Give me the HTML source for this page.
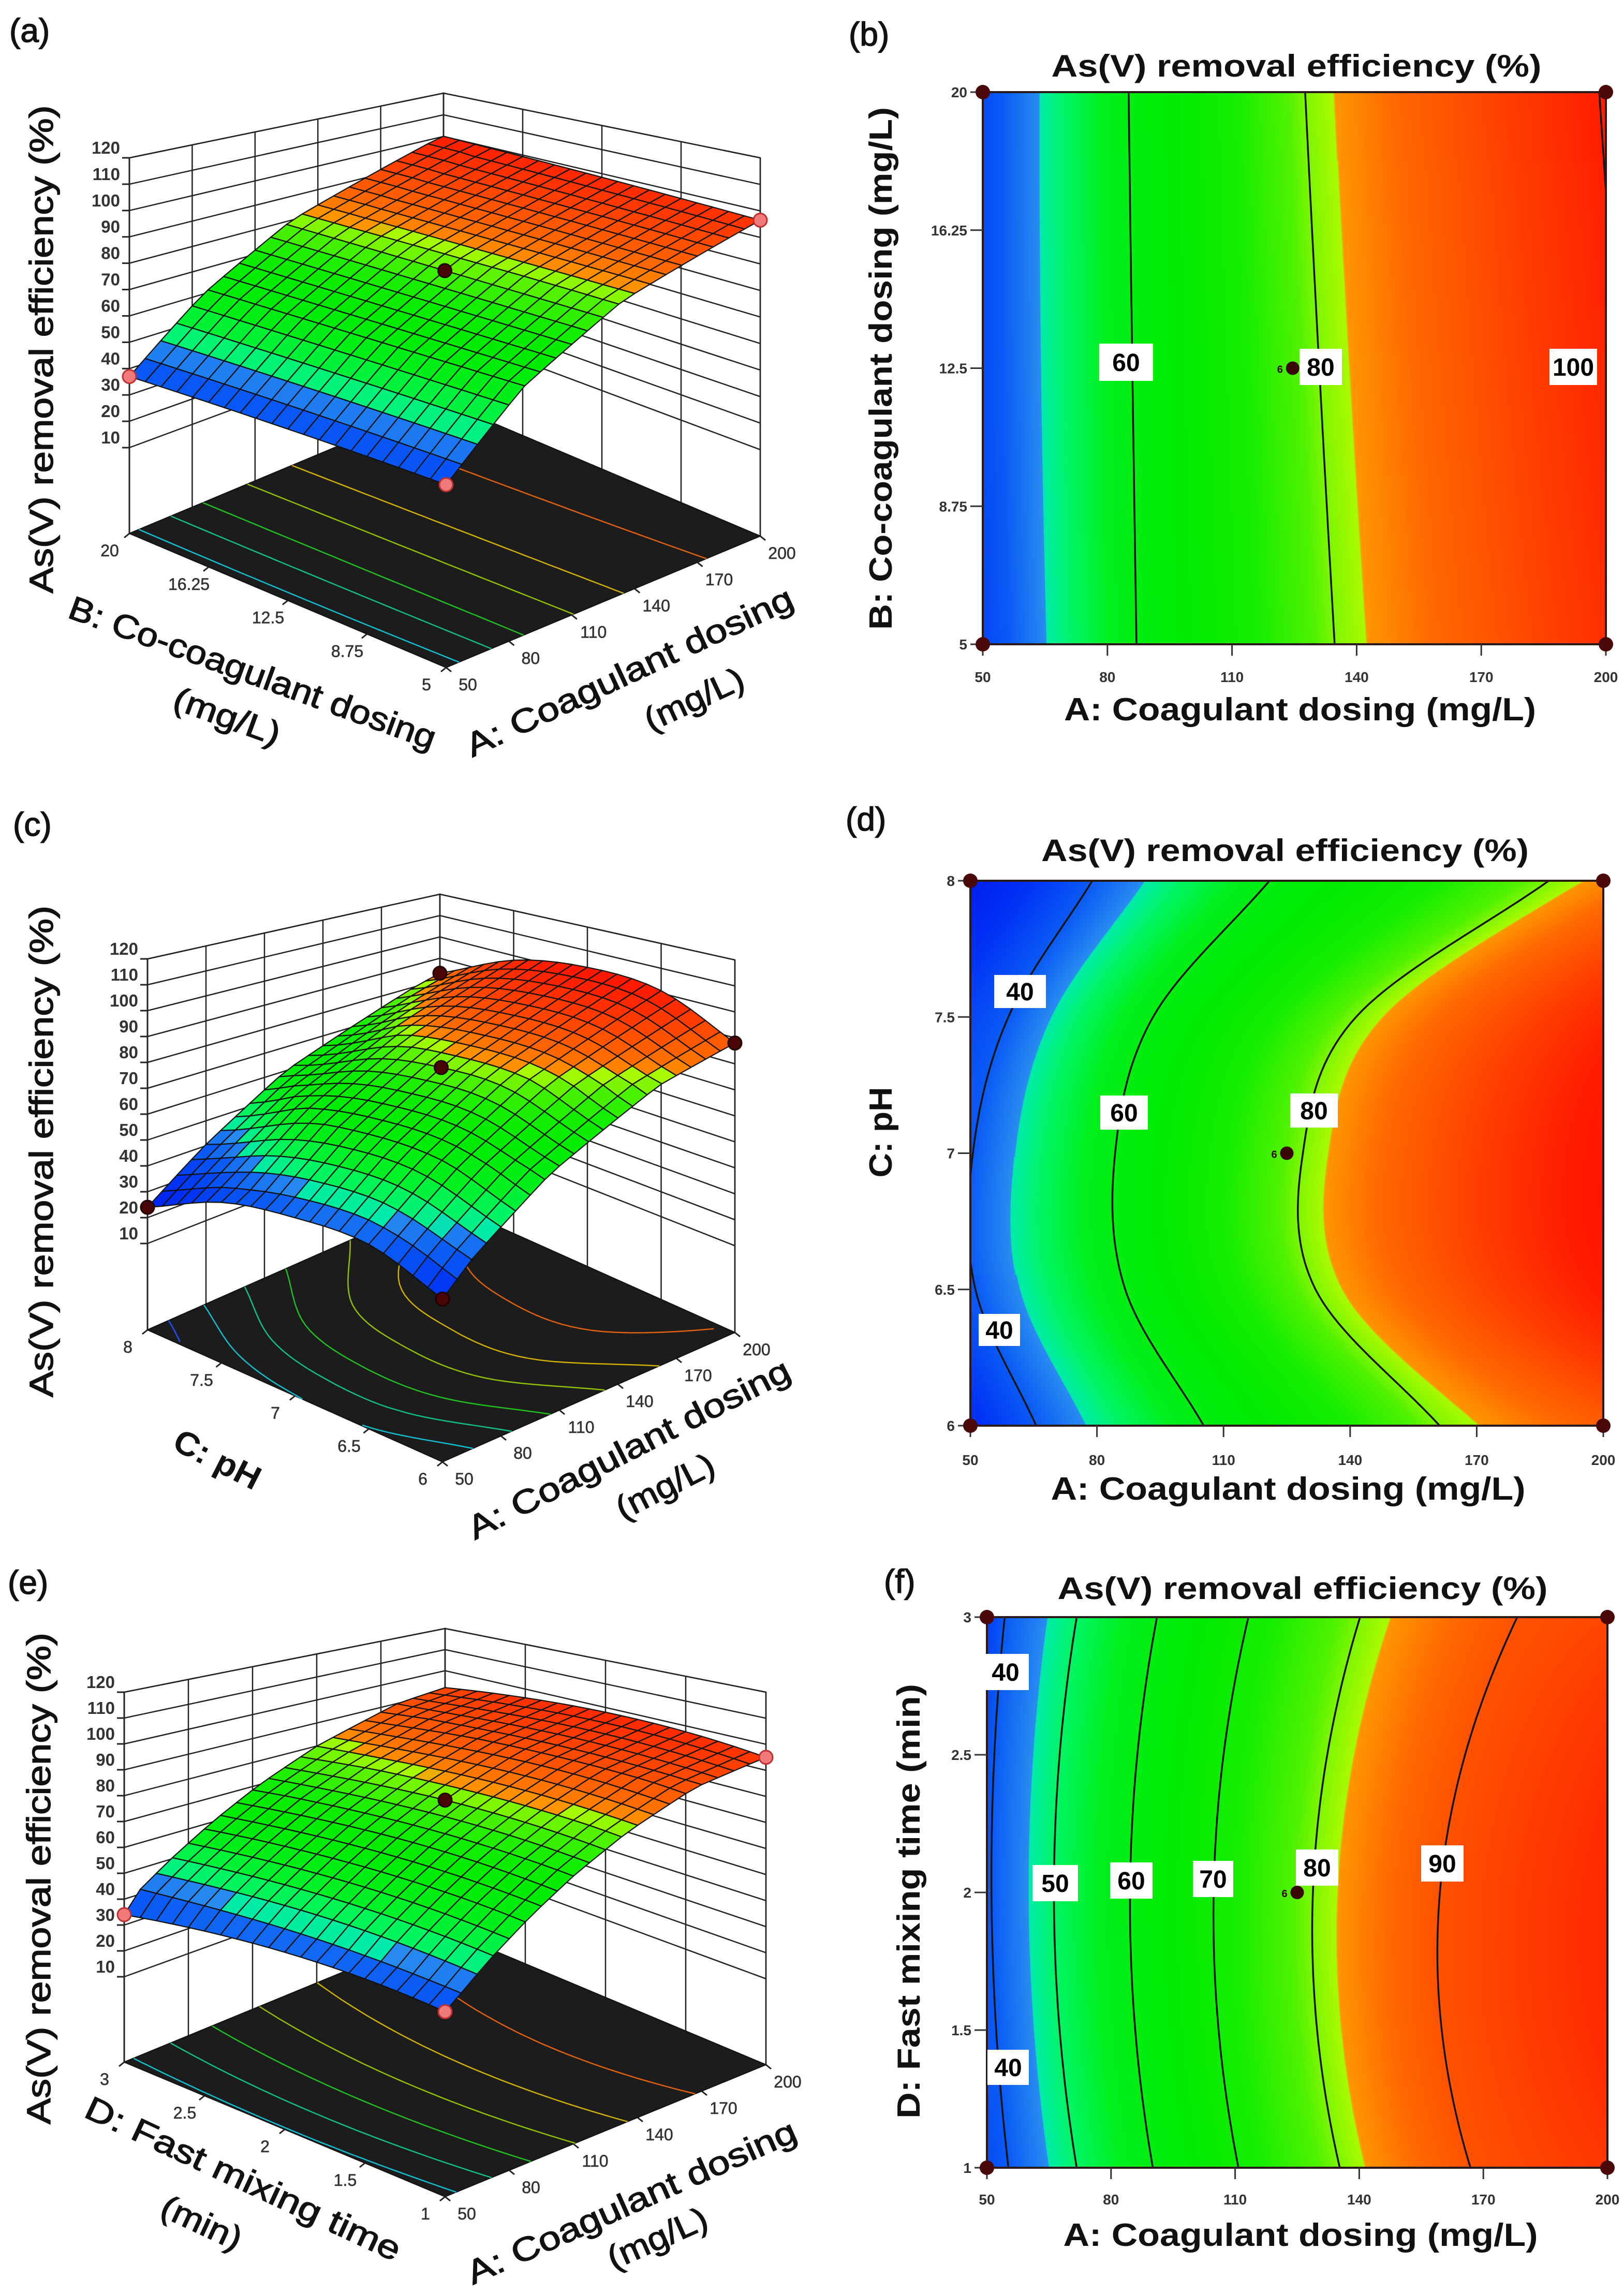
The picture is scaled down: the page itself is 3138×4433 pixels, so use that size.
<!DOCTYPE html>
<html><head><meta charset="utf-8">
<style>
html,body{margin:0;padding:0;background:#fff;}
#wrap{position:relative;width:3138px;height:4433px;overflow:hidden;background:#fff;}
canvas{position:absolute;}
svg{position:absolute;left:0;top:0;}
text{font-family:"Liberation Sans",sans-serif;}
</style></head>
<body>
<div id="wrap">
<canvas id="hb" width="1204" height="1067" style="left:1899px;top:178px"></canvas>
<canvas id="hd" width="1223" height="1053" style="left:1875px;top:1702px"></canvas>
<canvas id="hf" width="1199" height="1064" style="left:1907px;top:3125px"></canvas>
<svg id="fig" width="3138" height="4433" viewBox="0 0 3138 4433"></svg>
</div>
<script>
// ---------- data ----------
const aTicks=[50,80,110,140,170,200];
const aTickLabels=['50','80','110','140','170','200'];
const zTicks=[10,20,30,40,50,60,70,80,90,100,110,120];
// pair 1: A vs B (co-coagulant)
const bY=[5,12.5,20];
const bTicks=[5,8.75,12.5,16.25,20];
const bTickLabels=['5','8.75','12.5','16.25','20'];
const bEdge50=[36,37,37];
const bEdge200=[96.5,98.5,100.1];
const bLevels=[60,80,100];
const bPos60=[87.0,86.0,85.1];
const bPos80=[134.7,131.0,127.6];
const bPos100=[208,203,198.4];
// pair 2: A vs pH
const cY=[6,6.5,7,7.5,8];
const cTicks=[6,6.5,7,7.5,8];
const cTickLabels=['6','6.5','7','7.5','8'];
const cEdge50=[30,39.5,39.8,36,24];
const cEdge200=[88,101,103,98,83];
const cLevels=[40,60,80];
const cPos40=[65.6,51.2,50.6,59.0,78.9];
const cPos60=[105.3,86.7,84.3,93.3,120.9];
const cPos80=[161.2,131.8,128.8,141.4,187.1];
// pair 3: A vs fast mixing time
const dY=[1,2,3];
const dTicks=[1,1.5,2,2.5,3];
const dTickLabels=['1','1.5','2','2.5','3'];
const dEdge50=[37,39.5,34];
const dEdge200=[95,98,92];
const dLevels=[40,50,60,70,80,90];
const dPos40=[55.2,51.1,54.3];
const dPos50=[71.7,66.2,71.7];
const dPos60=[90.1,84.6,91.1];
const dPos70=[110.8,104.8,113.2];
const dPos80=[135.3,128.8,140.2];
const dPos90=[166.9,159.5,178.2];
const floorLevels=[30,40,50,60,70,80,90];
const floorColors=['#2050ff','#10c0d0','#10c080','#20c020','#90c000','#d0b000','#e06010'];

// ---------- helpers ----------
const NS='http://www.w3.org/2000/svg';
const svg=document.getElementById('fig');
function mk(tag,attrs,parent){const e=document.createElementNS(NS,tag);for(const k in attrs)e.setAttribute(k,attrs[k]);(parent||svg).appendChild(e);return e;}
function interp(arr,ys,y){
  const n=ys.length;
  if(y<=ys[0])return arr[0]; if(y>=ys[n-1])return arr[n-1];
  if(n===3){
    const [x0,x1,x2]=ys;
    return arr[0]*(y-x1)*(y-x2)/((x0-x1)*(x0-x2))+arr[1]*(y-x0)*(y-x2)/((x1-x0)*(x1-x2))+arr[2]*(y-x0)*(y-x1)/((x2-x0)*(x2-x1));
  }
  let i=0; while(i<n-2&&y>ys[i+1])i++;
  const t=(y-ys[i])/(ys[i+1]-ys[i]);
  const p1=arr[i],p2=arr[i+1];
  const p0=i>0?arr[i-1]:2*p1-p2;
  const p3=i+2<n?arr[i+2]:2*p2-p1;
  return 0.5*((2*p1)+(-p0+p2)*t+(2*p0-5*p1+4*p2-p3)*t*t+(-p0+3*p1-3*p2+p3)*t*t*t);
}
function rowPts(P,y){
  const pts=[[50,interp(P.e50,P.ys,y)]];
  P.levels.forEach((L,i)=>{const p=interp(P.pos[i],P.ys,y);if(p>50.5&&p<199.5)pts.push([p,L]);});
  pts.push([200,interp(P.e200,P.ys,y)]);
  pts.sort((a,b)=>a[0]-b[0]);
  return pts;
}
function evalPts(pts,A){
  for(let i=0;i<pts.length-1;i++){if(A<=pts[i+1][0]){const t=(A-pts[i][0])/Math.max(1e-6,pts[i+1][0]-pts[i][0]);return pts[i][1]+t*(pts[i+1][1]-pts[i][1]);}}
  return pts[pts.length-1][1];
}
function field(P,A,y){return evalPts(rowPts(P,y),A);}
const cm=[[20,[0,20,235]],[32,[0,50,245]],[40,[10,90,245]],[45.9,[40,140,240]],[46,[0,235,170]],[50,[0,245,100]],[56,[0,240,30]],[65,[0,235,0]],[72,[20,238,0]],[78,[80,242,0]],[81.9,[170,250,0]],[82,[255,150,0]],[86,[255,105,0]],[93,[255,65,0]],[100,[255,30,0]],[110,[255,0,0]]];
function cmap(v){
  if(v<=cm[0][0])return cm[0][1];
  for(let i=0;i<cm.length-1;i++){if(v<=cm[i+1][0]){const t=(v-cm[i][0])/(cm[i+1][0]-cm[i][0]);const a=cm[i][1],b=cm[i+1][1];return [a[0]+t*(b[0]-a[0]),a[1]+t*(b[1]-a[1]),a[2]+t*(b[2]-a[2])];}}
  return cm[cm.length-1][1];
}
function rgb(c){return 'rgb('+Math.round(c[0])+','+Math.round(c[1])+','+Math.round(c[2])+')';}

const P1={ys:bY,e50:bEdge50,e200:bEdge200,levels:bLevels,pos:[bPos60,bPos80,bPos100]};
const P2={ys:cY,e50:cEdge50,e200:cEdge200,levels:cLevels,pos:[cPos40,cPos60,cPos80]};
const P3={ys:dY,e50:dEdge50,e200:dEdge200,levels:dLevels,pos:[dPos40,dPos50,dPos60,dPos70,dPos80,dPos90]};

// ---------- contour panels ----------
function contourPanel(C){
  const P=C.P,[x0,y0,x1,y1]=C.rect,ymin=P.ys[0],ymax=P.ys[P.ys.length-1];
  const cv=document.getElementById(C.canvas),ctx=cv.getContext('2d');
  const W=cv.width,H=cv.height,img=ctx.createImageData(W,H);
  for(let py=0;py<H;py++){
    const yv=ymax-(py+0.5)/H*(ymax-ymin); const pts=rowPts(P,yv);
    for(let px=0;px<W;px++){const c=cmap(evalPts(pts,50+(px+0.5)/W*150));const k=(py*W+px)*4;img.data[k]=c[0];img.data[k+1]=c[1];img.data[k+2]=c[2];img.data[k+3]=255;}
  }
  ctx.putImageData(img,0,0);
  const X=a=>x0+(a-50)/150*(x1-x0), Y=v=>y1-(v-ymin)/(ymax-ymin)*(y1-y0);
  const g=mk('g',{});
  
  
  const cp=mk('clipPath',{id:C.name+'-clip'},g); mk('rect',{x:x0,y:y0,width:x1-x0,height:y1-y0},cp);
  const lg=mk('g',{'clip-path':'url(#'+C.name+'-clip)'},g);
  P.levels.forEach((L,i)=>{
    let d='';for(let s=0;s<=80;s++){const yv=ymin+(ymax-ymin)*s/80;d+=(s?'L':'M')+X(interp(P.pos[i],P.ys,yv)).toFixed(1)+','+Y(yv).toFixed(1);}
    const p=mk('path',{d:d,fill:'none',stroke:'#141414','stroke-width':3.5},lg);
    
    
  });
  const fr=mk('rect',{x:x0,y:y0,width:x1-x0,height:y1-y0,fill:'none',stroke:'#2a1a1a','stroke-width':4},g);
  
  
  aTicks.forEach((a,i)=>{
    mk('line',{x1:X(a),y1:y1,x2:X(a),y2:y1+22,stroke:'#333','stroke-width':3},g);
    const t=mk('text',{x:X(a),y:C.tickY,'text-anchor':'middle','font-size':28,'font-weight':'bold',fill:'#333'},g);
    t.textContent=aTickLabels[i];
    
    
  });
  C.ticks.forEach((v,i)=>{
    mk('line',{x1:x0-24,y1:Y(v),x2:x0,y2:Y(v),stroke:'#333','stroke-width':3},g);
    const t=mk('text',{x:x0-30,y:Y(v)+10,'text-anchor':'end','font-size':28,'font-weight':'bold',fill:'#333'},g);
    t.textContent=C.tickLabels[i];
    
    
  });
  [[50,ymin],[200,ymin],[50,ymax],[200,ymax]].forEach(p=>{
    const c=mk('circle',{cx:X(p[0]),cy:Y(p[1]),r:14,fill:'#4a0808'},g);
    
    
  });
  const cx=X(C.center[0]),cy=Y(C.center[1]);
  const cc=mk('circle',{cx:cx,cy:cy,r:13,fill:'#3a0505'},g);
  
  
  const six=mk('text',{x:cx-30,y:cy+9,'font-size':20,'font-weight':'bold',fill:'#300'},g); six.textContent='6';
  C.labels.forEach(L=>{
    const b=mk('rect',{x:L[1]-L[3]/2,y:L[2]-L[4]/2,width:L[3],height:L[4],fill:'#fff'},g);
    
    
    const t=mk('text',{x:L[1],y:L[2]+17,'text-anchor':'middle','font-size':48,'font-weight':'bold',fill:'#000'},g);
    t.textContent=L[0];
    
    
  });
  const ti=mk('text',{x:C.title[0],y:C.title[1],'text-anchor':'middle','font-size':60,'font-weight':'bold',fill:'#111',textLength:C.title[2],lengthAdjust:'spacingAndGlyphs'},g);
  ti.textContent='As(V) removal efficiency (%)';
  
  
  const xl=mk('text',{x:C.xl[0],y:C.xl[1],'text-anchor':'middle','font-size':62,'font-weight':'bold',fill:'#111',textLength:C.xl[2],lengthAdjust:'spacingAndGlyphs'},g);
  xl.textContent='A: Coagulant dosing (mg/L)';
  
  
  const yl=mk('text',{x:0,y:0,transform:'translate('+C.yl[0]+','+C.yl[1]+') rotate(-90)','text-anchor':'middle','font-size':62,'font-weight':'bold',fill:'#111',textLength:C.yl[2],lengthAdjust:'spacingAndGlyphs'},g);
  yl.textContent=C.yl[3];
  
  
}
contourPanel({name:'panel-b',P:P1,canvas:'hb',rect:[1899,178,3103,1245],tickY:1318,ticks:bTicks,tickLabels:bTickLabels,center:[124.6,12.5],
  labels:[['60',2176,700,104,72],['80',2552,709,82,70],['100',3040,709,92,70]],
  title:[2505,148,947],xl:[2512,1392,912],yl:[1723,712,1010,'B: Co-coagulant dosing (mg/L)']});
contourPanel({name:'panel-d',P:P2,canvas:'hd',rect:[1875,1702,3098,2755],tickY:2831,ticks:cTicks,tickLabels:cTickLabels,center:[125,7],
  labels:[['40',1971,1916,100,64],['40',1931,2570,80,62],['60',2172,2150,92,66],['80',2539,2146,92,66]],
  title:[2483,1664,942],xl:[2489,2898,917],yl:[1723,2188,175,'C: pH']});
contourPanel({name:'panel-f',P:P3,canvas:'hf',rect:[1907,3125,3106,4189],tickY:4260,ticks:dTicks,tickLabels:dTickLabels,center:[125,2],
  labels:[['40',1943,3231,90,70],['40',1948,3995,80,68],['50',2039,3639,88,70],['60',2186,3634,82,70],['70',2344,3631,78,70],['80',2545,3609,82,70],['90',2787,3601,82,70]],
  title:[2517,3090,947],xl:[2513,4340,917],yl:[1777,3674,840,'D: Fast mixing time (min)']});

// ---------- 3D panels ----------
function panel3D(C){
  const G=C.G,P=C.P,ymin=P.ys[0],ymax=P.ys[P.ys.length-1];
  const g=mk('g',{});
  
  
  const bil=(f,r,l,b,u,v)=>f*(1-u)*(1-v)+r*u*(1-v)+l*(1-u)*v+b*u*v;
  function pr(u,v,z){
    const x=bil(G.F[0],G.R[0],G.L[0],G.B[0],u,v), y=bil(G.F[1],G.R[1],G.L[1],G.B[1],u,v);
    const h=bil(G.h[0],G.h[1],G.h[2],G.h[3],u,v), w=(z-G.zmin)/(120-G.zmin);
    return [x,y-w*h];
  }
  const pt=p=>p[0].toFixed(1)+','+p[1].toFixed(1);
  const lw=mk('polygon',{points:[pr(0,1,G.zmin),pr(1,1,G.zmin),pr(1,1,120),pr(0,1,120)].map(pt).join(' '),fill:'#fff',stroke:'#222','stroke-width':2.5},g);
  
  
  const rw=mk('polygon',{points:[pr(1,1,G.zmin),pr(1,0,G.zmin),pr(1,0,120),pr(1,1,120)].map(pt).join(' '),fill:'#fff',stroke:'#222','stroke-width':2.5},g);
  
  
  zTicks.forEach(z=>{mk('polyline',{points:[pr(0,1,z),pr(1,1,z),pr(1,0,z)].map(pt).join(' '),fill:'none',stroke:'#222','stroke-width':2.5},g);});
  aTicks.forEach(a=>{const u=(a-50)/150;mk('line',{x1:pr(u,1,G.zmin)[0],y1:pr(u,1,G.zmin)[1],x2:pr(u,1,120)[0],y2:pr(u,1,120)[1],stroke:'#222','stroke-width':2.5},g);});
  C.ticks.forEach(t=>{const v=(t-ymin)/(ymax-ymin);mk('line',{x1:pr(1,v,G.zmin)[0],y1:pr(1,v,G.zmin)[1],x2:pr(1,v,120)[0],y2:pr(1,v,120)[1],stroke:'#222','stroke-width':2.5},g);});
  mk('line',{x1:pr(0,1,G.zmin)[0],y1:pr(0,1,G.zmin)[1],x2:pr(0,1,120)[0],y2:pr(0,1,120)[1],stroke:'#222','stroke-width':3},g);
  zTicks.forEach(z=>{const p=pr(0,1,z);mk('line',{x1:p[0]-14,y1:p[1],x2:p[0],y2:p[1],stroke:'#222','stroke-width':3},g);
    const t=mk('text',{x:p[0]-18,y:p[1]-8,'text-anchor':'end','font-size':33,'font-weight':'bold',fill:'#333'},g);
    t.textContent=String(z);
    
    });
  const fl=mk('polygon',{points:[pr(0,0,G.zmin),pr(1,0,G.zmin),pr(1,1,G.zmin),pr(0,1,G.zmin)].map(pt).join(' '),fill:'#1c1c1c',stroke:'#111','stroke-width':2},g);
  
  
  floorLevels.forEach((L,li)=>{
    let d='',pen=false;
    for(let s=0;s<=40;s++){
      const v=s/40,yv=ymin+(ymax-ymin)*v,pts=rowPts(P,yv);let found=null,prev=evalPts(pts,50);
      for(let a=50.5;a<=200;a+=0.5){const cur=evalPts(pts,a);if((prev-L)*(cur-L)<=0&&prev!==cur){found=a-0.5+0.5*(L-prev)/(cur-prev);break;}prev=cur;}
      if(found===null){pen=false;continue;}
      d+=(pen?'L':'M')+pt(pr((found-50)/150,v,G.zmin));pen=true;
    }
    if(d){const p=mk('path',{d:d,fill:'none',stroke:floorColors[li],'stroke-width':2.5},g);
      
      }
  });
  aTicks.forEach((a,i)=>{const p=pr((a-50)/150,0,G.zmin);
    mk('line',{x1:p[0],y1:p[1],x2:p[0]+10,y2:p[1]+8,stroke:'#222','stroke-width':3},g);
    const t=mk('text',{x:p[0]+42,y:p[1]+44,'text-anchor':'middle','font-size':32,fill:'#333',stroke:'#333','stroke-width':0.6},g);
    t.textContent=aTickLabels[i];
    
    });
  C.ticks.forEach((tv,i)=>{const p=pr(0,(tv-ymin)/(ymax-ymin),G.zmin);
    mk('line',{x1:p[0],y1:p[1],x2:p[0]-10,y2:p[1]+8,stroke:'#222','stroke-width':3},g);
    const t=mk('text',{x:p[0]-38,y:p[1]+44,'text-anchor':'middle','font-size':32,fill:'#333',stroke:'#333','stroke-width':0.6},g);
    t.textContent=C.tickLabels[i];
    
    });
  const N=20,cells=[];
  for(let i=0;i<N;i++)for(let j=0;j<N;j++)cells.push([i,j]);
  cells.sort((p,q)=>(q[0]+q[1])-(p[0]+p[1]));
  const sg=mk('g',{},g);
  
  
  const Z=(u,v)=>field(P,50+150*u,ymin+(ymax-ymin)*v);
  cells.forEach(([i,j])=>{
    const u0=i/N,u1=(i+1)/N,v0=j/N,v1=(j+1)/N;
    const val=Z((u0+u1)/2,(v0+v1)/2);
    const q=mk('polygon',{points:[pr(u0,v0,Z(u0,v0)),pr(u1,v0,Z(u1,v0)),pr(u1,v1,Z(u1,v1)),pr(u0,v1,Z(u0,v1))].map(pt).join(' '),fill:rgb(cmap(val)),stroke:'#111','stroke-width':2.2,'stroke-linejoin':'round'},sg);
    
    
  });
  C.dots.forEach(d=>{const u=(d[0]-50)/150,v=(d[1]-ymin)/(ymax-ymin);const p=pr(u,v,Z(u,v));
    const c=mk('circle',{cx:p[0],cy:p[1],r:13,fill:d[2],stroke:d[3],'stroke-width':3},g);
    
    });
  C.texts.forEach(T=>{
    const t=mk('text',{x:0,y:22,transform:'translate('+T[1]+','+T[2]+') rotate('+T[3]+')','text-anchor':'middle','font-size':64,'font-weight':T[5]||'normal',fill:'#111',stroke:'#111','stroke-width':T[5]?0:1.4,textLength:T[4],lengthAdjust:'spacingAndGlyphs'},g);
    t.textContent=T[0];
    
    
  });
}
const pink='#f07a7a',pinkS='#c03030',dark='#4a0505';
panel3D({name:'panel-a',P:P1,ticks:bTicks,tickLabels:bTickLabels,
  G:{F:[862,1290],R:[1469,1036],L:[250,1031],B:[857,777],h:[860,731,726,597],zmin:-22.6},
  dots:[[50,20,pink,pinkS],[200,5,pink,pinkS],[50,5,pink,pinkS],[125,12.5,dark,'#200']],
  texts:[['As(V) removal efficiency (%)',80,675,-90,943,0,'z-axis-title'],['B: Co-coagulant dosing',488,1300,20,750,0,'b-axis-title'],['(mg/L)',439,1384,20,215,0,'b-axis-unit'],['A: Coagulant dosing',1216,1298,-25,690,0,'a-axis-title'],['(mg/L)',1341,1351,-25,205,0,'a-axis-unit']]});
panel3D({name:'panel-c',P:P2,ticks:cTicks,tickLabels:cTickLabels,
  G:{F:[855,2825],R:[1420,2575],L:[285,2570],B:[850,2320],h:[845,720,717,592],zmin:-23.4},
  dots:[[50,8,dark,'#200'],[50,6,dark,'#200'],[200,6,dark,'#200'],[200,8,dark,'#200'],[125,7,dark,'#200']],
  texts:[['As(V) removal efficiency (%)',80,2225,-90,950,0,'z-axis-title'],['C: pH',420,2820,27,180,'bold','c-axis-title'],['A: Coagulant dosing',1215,2800,-27,690,0,'a-axis-title'],['(mg/L)',1285,2872,-27,205,0,'a-axis-unit']]});
panel3D({name:'panel-e',P:P3,ticks:dTicks,tickLabels:dTickLabels,
  G:{F:[860,4245],R:[1480,3990],L:[240,3985],B:[860,3730],h:[852,720,715,583],zmin:-23},
  dots:[[50,3,pink,pinkS],[200,1,pink,pinkS],[50,1,pink,pinkS],[125,2,dark,'#200']],
  texts:[['As(V) removal efficiency (%)',75,3630,-90,950,0,'z-axis-title'],['D: Fast mixing time',470,4210,25,665,0,'d-axis-title'],['(min)',390,4295,25,165,0,'d-axis-unit'],['A: Coagulant dosing',1220,4255,-24,690,0,'a-axis-title'],['(mg/L)',1270,4325,-24,205,0,'a-axis-unit']]});

[['(a)',18,81],['(b)',1640,88],['(c)',25,1615],['(d)',1634,1605],['(e)',15,3080],['(f)',1708,3078]].forEach(L=>{
  const t=mk('text',{x:L[1],y:L[2],'font-size':64,fill:'#111',stroke:'#111','stroke-width':1.5});
  t.textContent=L[0];
  
  
});
</script>
</body></html>
